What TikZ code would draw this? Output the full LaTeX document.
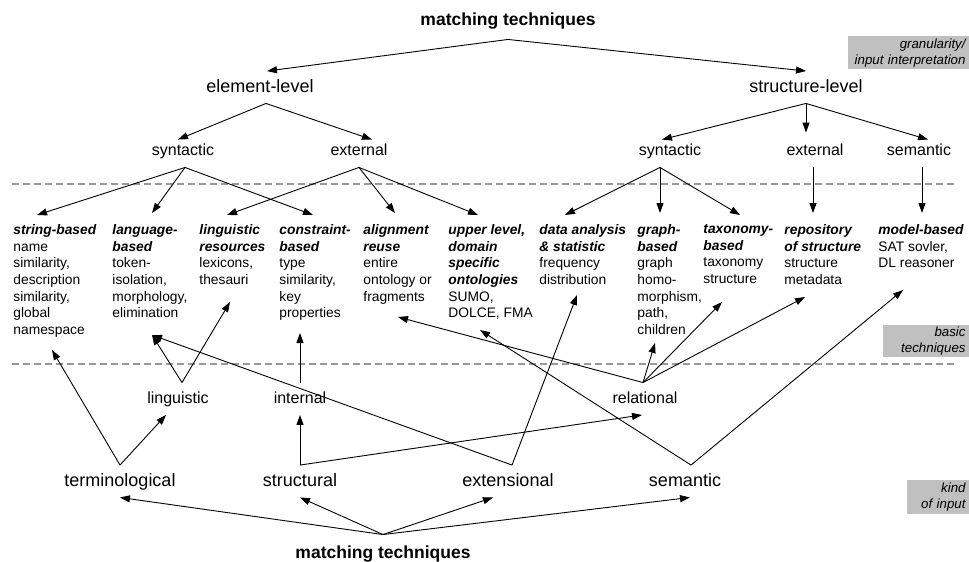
\documentclass[tikz,border=0pt]{standalone}
\usepackage{fontspec}
\setmainfont{Liberation Sans}
\usetikzlibrary{arrows.meta}
\definecolor{bandgrey}{HTML}{C0C0C0}
\definecolor{rulegrey}{HTML}{999999}
\newcommand{\techhead}[1]{\textbf{\textit{#1}}}
\tikzset{
  every picture/.style={line width=0.9pt},
  title/.style={font=\fontsize{17.5}{20}\selectfont\bfseries, anchor=base, text height=13pt, text depth=4pt, inner ysep=10pt},
  granular/.style={font=\fontsize{18}{21}\selectfont, anchor=base, text height=13.5pt, text depth=4pt, inner ysep=7pt},
  facet/.style={font=\fontsize{16}{19}\selectfont, anchor=base, text height=12pt, text depth=9pt, inner ysep=3pt},
  basis/.style={font=\fontsize{16}{19}\selectfont, anchor=base, text height=12pt, text depth=3.5pt, inner ysep=8pt},
  tech/.style={font=\fontsize{13.8}{16.7}\selectfont, anchor=north west, align=left, inner sep=0pt},
  band/.style={fill=bandgrey, anchor=north east, align=right, font=\fontsize{13.3}{16}\selectfont\itshape, inner xsep=3pt, inner ysep=1pt},
  divider/.style={draw=rulegrey, line width=1.5pt, dash pattern=on 7pt off 4pt},
  arr/.style={-{Triangle[length=10pt, width=7pt]}},
}

\begin{document}
\begin{tikzpicture}[x=1pt, y=-1pt]
  \useasboundingbox (0,0) rectangle (969,562);
  % side labels and level separators
  \node[band, text width=115pt, minimum height=33pt] (bgran) at (969,36) {granularity/\\input interpretation};
  \node[band, text width=80pt, minimum height=32pt] (bbasic) at (969,325) {basic\\techniques};
  \node[band, text width=56pt, minimum height=34pt] (bkind) at (969,480) {kind\\of input};
  \draw[divider] (12,184) -- (957,184);
  \draw[divider] (12,364) -- (957,364);

  % upper classification
  \node[title] (mt1) at (508,25) {matching techniques};
  \node[granular] (el) at (260,92) {element-level};
  \node[granular] (sl) at (806,92) {structure-level};
  \node[facet] (lsyn) at (183,155) {syntactic};
  \node[facet] (lext) at (359,155) {external};
  \node[facet] (rsyn) at (670,155) {syntactic};
  \node[facet] (rext) at (815,155) {external};
  \node[facet] (rsem) at (919,155) {semantic};

  % basic techniques
  \node[tech] (strb) at (13,224) {\techhead{string-based}\\name\\similarity,\\description\\similarity,\\global\\namespace};
  \node[tech] (lang) at (112,224) {\techhead{language-}\\\techhead{based}\\token-\\isolation,\\morphology,\\elimination};
  \node[tech] (lres) at (199,224) {\techhead{linguistic}\\\techhead{resources}\\lexicons,\\thesauri};
  \node[tech] (cons) at (279,224) {\techhead{constraint-}\\\techhead{based}\\type\\similarity,\\key\\properties};
  \node[tech] (alig) at (363,224) {\techhead{alignment}\\\techhead{reuse}\\entire\\ontology or\\fragments};
  \node[tech] (uppr) at (448,224) {\techhead{upper level,}\\\techhead{domain}\\\techhead{specific}\\\techhead{ontologies}\\SUMO,\\DOLCE, FMA};
  \node[tech] (data) at (539,224) {\techhead{data analysis}\\\techhead{\& statistic}\\frequency\\distribution};
  \node[tech] (grph) at (637,224) {\techhead{graph-}\\\techhead{based}\\graph\\homo-\\morphism,\\path,\\children};
  \node[tech] (taxo) at (703,224) {\techhead{taxonomy-}\\\techhead{based}\\taxonomy\\structure};
  \node[tech] (repo) at (784,224) {\techhead{repository}\\\techhead{of structure}\\structure\\metadata};
  \node[tech] (modl) at (878,224) {\techhead{model-based}\\SAT sovler,\\DL reasoner};

  % lower classification
  \node[basis] (ling) at (178,403) {linguistic};
  \node[basis] (inte) at (300,403) {internal};
  \node[basis] (rela) at (645,403) {relational};
  \node[granular] (term) at (120,486) {terminological};
  \node[granular] (stru) at (300,486) {structural};
  \node[granular] (exte) at (508,486) {extensional};
  \node[granular] (sema) at (685,486) {semantic};
  \node[title] (mt2) at (383,558) {matching techniques};

  % top-down arrows
  \draw[arr] (mt1.south) -- ([xshift=7pt]el.north);
  \draw[arr] (mt1.south) -- (sl.north);
  \draw[arr] ([xshift=6pt]el.south) -- ([xshift=-5pt]lsyn.north);
  \draw[arr] ([xshift=6pt]el.south) -- ([xshift=13pt]lext.north);
  \draw[arr] (sl.south) -- ([xshift=-8pt]rsyn.north);
  \draw[arr] (sl.south) -- ([xshift=-9pt,yshift=7pt]rext.north);
  \draw[arr] (sl.south) -- ([xshift=9pt]rsem.north);
  \draw[arr] ([xshift=2pt]lsyn.south) -- ([xshift=24pt,yshift=9pt]strb.north west);
  \draw[arr] ([xshift=2pt]lsyn.south) -- ([xshift=40pt,yshift=11pt]lang.north west);
  \draw[arr] ([xshift=2pt]lsyn.south) -- ([xshift=34pt,yshift=9pt]cons.north west);
  \draw[arr] (lext.south) -- ([xshift=28pt,yshift=9pt]lres.north west);
  \draw[arr] (lext.south) -- ([xshift=32pt,yshift=11pt]alig.north west);
  \draw[arr] (lext.south) -- ([xshift=30pt,yshift=9pt]uppr.north west);
  \draw[arr] ([xshift=-10pt]rsyn.south) -- ([xshift=26pt,yshift=9pt]data.north west);
  \draw[arr] ([xshift=-10pt]rsyn.south) -- ([xshift=23pt,yshift=11pt]grph.north west);
  \draw[arr] ([xshift=-10pt]rsyn.south) -- ([xshift=37pt,yshift=9pt]taxo.north west);
  \draw[arr] ([xshift=-2pt]rext.south) -- ([xshift=29pt,yshift=11pt]repo.north west);
  \draw[arr] ([xshift=3pt]rsem.south) -- ([xshift=44pt,yshift=11pt]modl.north west);

  % bottom-up arrows
  \draw[arr] (mt2.north) -- (term.south);
  \draw[arr] (mt2.north) -- (stru.south);
  \draw[arr] (mt2.north) -- ([xshift=-15pt]exte.south);
  \draw[arr] (mt2.north) -- ([xshift=5pt]sema.south);
  \draw[arr] (term.north) -- ([xshift=39pt,yshift=-126pt]strb.north west);
  \draw[arr] (term.north) -- ([xshift=-12pt]ling.south);
  \draw[arr] ([xshift=4pt]ling.north) -- ([xshift=40pt,yshift=-111pt]lang.north west);
  \draw[arr] ([xshift=4pt]ling.north) -- ([xshift=31pt,yshift=-78pt]lres.north west);
  \draw[arr] (stru.north) -- (inte.south);
  \draw[arr] (stru.north) -- ([xshift=-3pt]rela.south);
  \draw[arr] (inte.north) -- ([xshift=21pt,yshift=-109pt]cons.north west);
  \draw[arr] ([xshift=4pt]exte.north) -- ([xshift=40pt,yshift=-111pt]lang.north west);
  \draw[arr] ([xshift=4pt]exte.north) -- ([xshift=38pt,yshift=-71pt]data.north west);
  \draw[arr] ([xshift=-2pt]rela.north) -- ([xshift=35pt,yshift=-93pt]alig.north west);
  \draw[arr] ([xshift=-2pt]rela.north) -- ([xshift=18pt,yshift=-119pt]grph.north west);
  \draw[arr] ([xshift=-2pt]rela.north) -- ([xshift=19pt,yshift=-78pt]taxo.north west);
  \draw[arr] ([xshift=-2pt]rela.north) -- ([xshift=21pt,yshift=-73pt]repo.north west);
  \draw[arr] ([xshift=6pt]sema.north) -- ([xshift=32pt,yshift=-106pt]uppr.north west);
  \draw[arr] ([xshift=6pt]sema.north) -- ([xshift=25pt,yshift=-66pt]modl.north west);
\end{tikzpicture}
\end{document}
